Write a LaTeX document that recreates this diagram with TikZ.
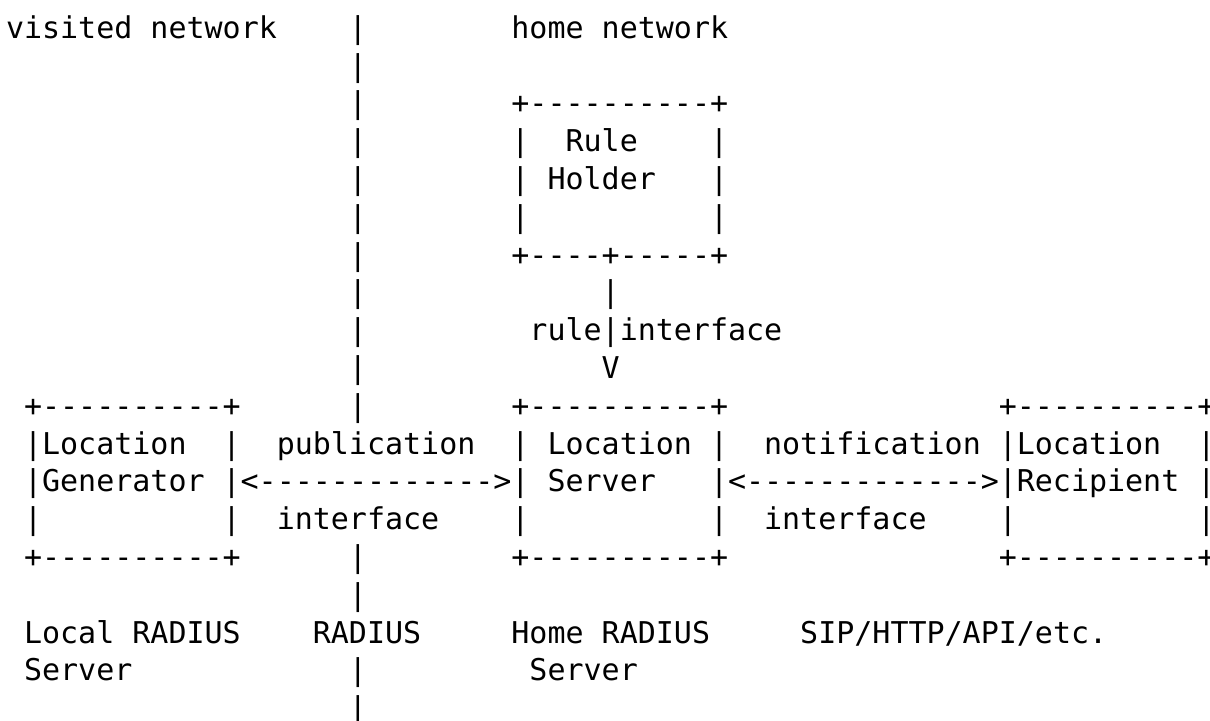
\documentclass[tikz,border=0pt]{standalone}
\usepackage{fontspec}
\setmonofont{DejaVu Sans Mono}
\tikzset{
  asc/.style={anchor=base west, inner sep=0pt, outer sep=0pt,
    font=\ttfamily\fontsize{15pt}{18.9pt}\selectfont, text=black},
}
\begin{document}
\begin{tikzpicture}
  \fill[white] (0,0) rectangle (605pt,-360.5pt);
  \useasboundingbox (0,0) rectangle (605pt,-360.5pt);
  % character grid: x = column, y = text row (baselines)
  \begin{scope}[shift={(3pt,-0.25pt)}, x=9.025pt, y=-18.9pt]
    % network boundary
    \node[asc] (visited) at (0,1) {visited network};
    \node[asc] (home)    at (28,1) {home network};
    \foreach \r in {1,...,11,15,16,18,19}
      \node[asc] (bar\r) at (19,\r) {|};
    \node[asc] (radius) at (17,17) {RADIUS};

    % Rule Holder
    \node[asc] (rh1) at (28,3) {+----------+};
    \node[asc] (rh2) at (28,4) {|~~Rule~~~~|};
    \node[asc] (rh3) at (28,5) {|~Holder~~~|};
    \node[asc] (rh4) at (28,6) {|~~~~~~~~~~|};
    \node[asc] (rh5) at (28,7) {+----+-----+};
    \node[asc] (ri1) at (33,8) {|};
    \node[asc] (ri2) at (29,9) {rule|interface};
    \node[asc] (ri3) at (33,10) {V};

    % Location Generator
    \node[asc] (lg1) at (1,11) {+----------+};
    \node[asc] (lg2) at (1,12) {|Location~~|};
    \node[asc] (lg3) at (1,13) {|Generator~|};
    \node[asc] (lg4) at (1,14) {|~~~~~~~~~~|};
    \node[asc] (lg5) at (1,15) {+----------+};

    % publication interface
    \node[asc] (pub1) at (15,12) {publication};
    \node[asc] (pub2) at (13,13) {<------------->};
    \node[asc] (pub3) at (15,14) {interface};

    % Location Server
    \node[asc] (ls1) at (28,11) {+----------+};
    \node[asc] (ls2) at (28,12) {|~Location~|};
    \node[asc] (ls3) at (28,13) {|~Server~~~|};
    \node[asc] (ls4) at (28,14) {|~~~~~~~~~~|};
    \node[asc] (ls5) at (28,15) {+----------+};

    % notification interface
    \node[asc] (not1) at (42,12) {notification};
    \node[asc] (not2) at (40,13) {<------------->};
    \node[asc] (not3) at (42,14) {interface};

    % Location Recipient
    \node[asc] (lr1) at (55,11) {+----------+};
    \node[asc] (lr2) at (55,12) {|Location~~|};
    \node[asc] (lr3) at (55,13) {|Recipient~|};
    \node[asc] (lr4) at (55,14) {|~~~~~~~~~~|};
    \node[asc] (lr5) at (55,15) {+----------+};

    % protocol labels
    \node[asc] (lrs1) at (1,17)  {Local RADIUS};
    \node[asc] (lrs2) at (1,18)  {Server};
    \node[asc] (hrs1) at (28,17) {Home RADIUS};
    \node[asc] (hrs2) at (29,18) {Server};
    \node[asc] (sip)  at (44,17) {SIP/HTTP/API/etc.};
  \end{scope}
\end{tikzpicture}
\end{document}
